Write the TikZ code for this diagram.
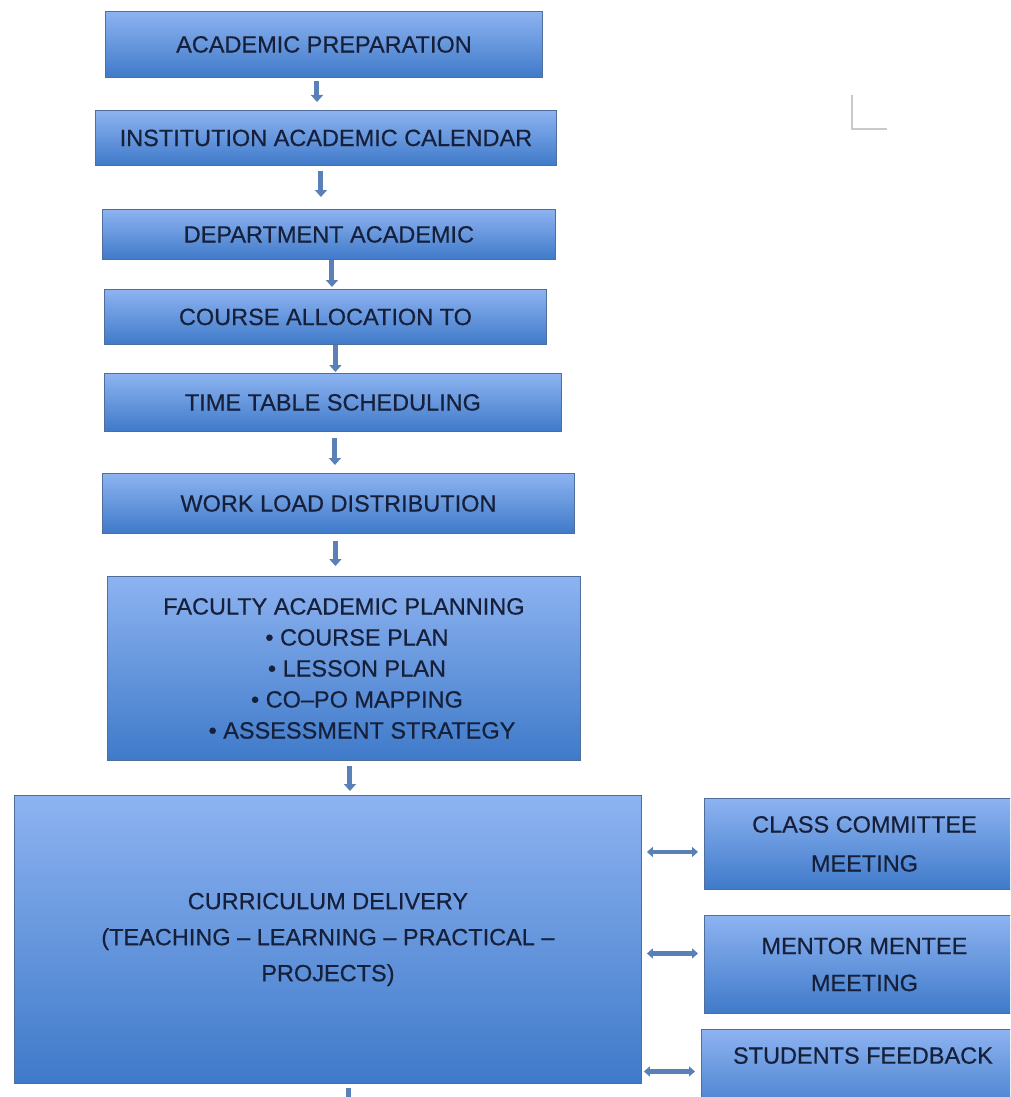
\documentclass[tikz,border=0pt]{standalone}
\usepackage{fontspec}
\setmainfont{Liberation Sans}
\newfontfamily\boxfont{Liberation Sans}[FakeBold=0.5]
\usetikzlibrary{arrows.meta}

\definecolor{boxtop}{HTML}{8DB3F1}
\definecolor{boxbot}{HTML}{3F7AC9}
\definecolor{boxline}{HTML}{4F6E9C}
\definecolor{ink}{HTML}{16203A}
\definecolor{arrowblue}{HTML}{5A80B8}
\definecolor{markgray}{HTML}{C9C9C9}

\begin{document}
\begin{tikzpicture}[x=1pt,y=-1pt,
  box/.style={draw=boxline, line width=0.9pt, top color=boxtop, bottom color=boxbot,
    text=ink, font=\boxfont\fontsize{23.5}{30}\selectfont, align=center, inner sep=0pt,
    anchor=north west},
  down/.style={line width=5pt, draw=arrowblue,
    -{Triangle[width=12pt,length=7pt]}, shorten <=3pt, shorten >=3pt},
  both/.style={line width=4.5pt, draw=arrowblue,
    {Triangle[width=10pt,length=6pt]}-{Triangle[width=10pt,length=6pt]},
    shorten <=5pt, shorten >=6pt}]

\useasboundingbox (0,0) rectangle (1010,1097);
\clip (0,0) rectangle (1010,1097);

% main planning column
\node[box, minimum width=437pt, minimum height=66pt] (prep) at (105,11) {ACADEMIC PREPARATION};
\node[box, minimum width=461pt, minimum height=55pt] (inst) at (95,110) {INSTITUTION ACADEMIC CALENDAR};
\node[box, minimum width=453pt, minimum height=50pt] (dept) at (102,209) {DEPARTMENT ACADEMIC};
\node[box, minimum width=442pt, minimum height=55pt] (alloc) at (104,289) {COURSE ALLOCATION TO};
\node[box, minimum width=457pt, minimum height=58pt] (time) at (104,373) {TIME TABLE SCHEDULING};
\node[box, minimum width=472pt, minimum height=60pt] (work) at (102,473) {WORK LOAD DISTRIBUTION};
\node[box, minimum width=473pt, minimum height=184pt, font=\boxfont\fontsize{23.5}{31}\selectfont] (fac) at (107,576)
  {FACULTY ACADEMIC PLANNING\\
   \hspace*{26pt}• COURSE PLAN\\
   \hspace*{26pt}• LESSON PLAN\\
   \hspace*{26pt}• CO–PO MAPPING\\
   \hspace*{36pt}• ASSESSMENT STRATEGY};
\node[box, minimum width=627pt, minimum height=288pt, font=\boxfont\fontsize{23.5}{36}\selectfont] (cur) at (14,795)
  {CURRICULUM DELIVERY\\
   (TEACHING – LEARNING – PRACTICAL –\\
   PROJECTS)};

% side activities
\node[box, minimum width=320pt, minimum height=91pt, font=\boxfont\fontsize{23.5}{39}\selectfont] (cls) at (704,798)
  {CLASS COMMITTEE\\MEETING};
\node[box, minimum width=320pt, minimum height=98pt, font=\boxfont\fontsize{23.5}{37}\selectfont] (ment) at (704,915)
  {MENTOR MENTEE\\MEETING};
\node[box, minimum width=323pt, minimum height=90pt, font=\boxfont\fontsize{23.5}{38}\selectfont] (fb) at (701,1029)
  {STUDENTS FEEDBACK\\\mbox{}};

% flow arrows
\draw[down, shorten >=8pt] ([xshift=-7pt]prep.south) -- ([xshift=-7pt]prep.south |- inst.north);
\draw[down, shorten <=5pt, shorten >=12pt] ([xshift=-5pt]inst.south) -- ([xshift=-5pt]inst.south |- dept.north);
\draw[down, shorten <=0pt, shorten >=2pt] ([xshift=3pt]dept.south) -- ([xshift=3pt]dept.south |- alloc.north);
\draw[down, shorten <=0pt, shorten >=1pt] ([xshift=10pt]alloc.south) -- ([xshift=10pt]alloc.south |- time.north);
\draw[down, shorten <=6pt, shorten >=8pt] ([xshift=2pt]time.south) -- ([xshift=2pt]time.south |- work.north);
\draw[down, shorten <=7pt, shorten >=10pt] ([xshift=-3pt]work.south) -- ([xshift=-3pt]work.south |- fac.north);
\draw[down, shorten <=5pt, shorten >=4pt] ([xshift=6pt]fac.south) -- ([xshift=6pt]fac.south |- cur.north);
\coordinate (next) at (348,1110);
\draw[down, shorten <=4pt, shorten >=0pt] (cur.south -| next) -- (next);

% two-way links to the side activities
\draw[both] ([yshift=-8pt]cls.west -| cur.east) -- ([yshift=-8pt]cls.west);
\draw[both] ([yshift=11pt]ment.west -| cur.east) -- ([yshift=11pt]ment.west);
\draw[both, shorten <=2pt, shorten >=6pt] ([yshift=3pt]fb.west -| cur.east) -- ([yshift=3pt]fb.west);

% corner mark
\draw[markgray, line width=1.6pt] (852,95) -- (852,129) -- (887,129);
\end{tikzpicture}
\end{document}
